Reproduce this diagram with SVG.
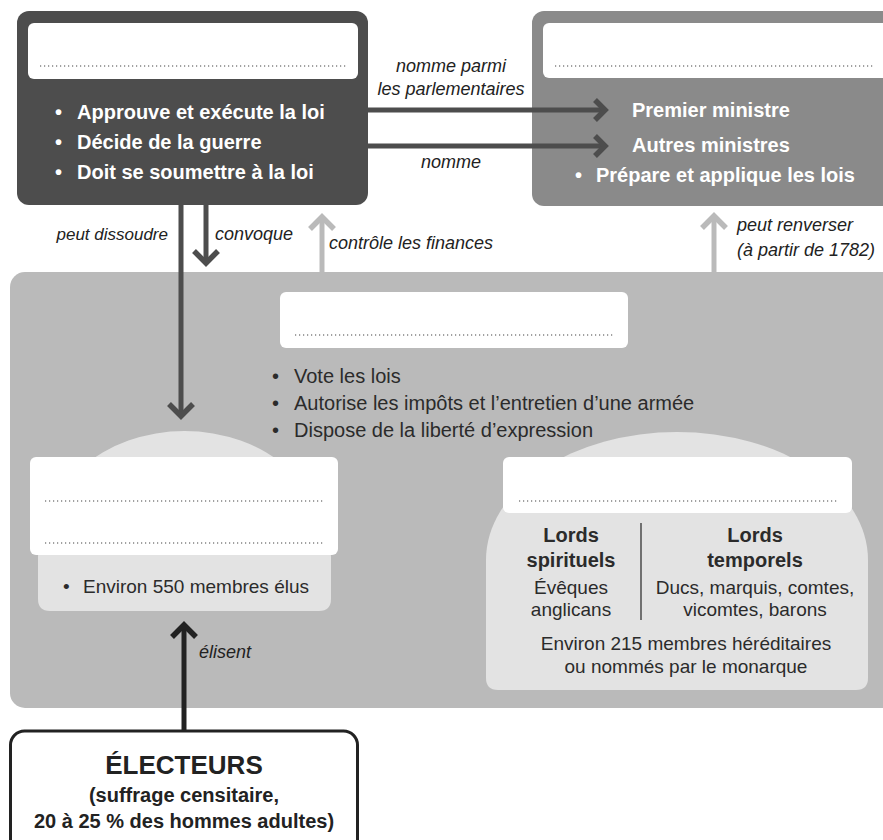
<svg xmlns="http://www.w3.org/2000/svg" width="883" height="840" viewBox="0 0 883 840">
<style>
  text { font-family: "Liberation Sans", Arial, sans-serif; }
  .w { fill: #ffffff; font-weight: bold; font-size: 20px; }
  .d { fill: #2b2b2b; font-size: 20px; }
  .it { fill: #222; font-style: italic; font-size: 18px; }
  .dots { stroke: #444; stroke-width: 1.2; stroke-dasharray: 1.2 2.8; fill: none; }
  .card { fill: #ffffff; }
  .ln-dark { stroke: #4d4d4d; stroke-width: 5; fill: none; }
  .ln-light { stroke: #bababa; stroke-width: 5; fill: none; }
  .ln-black { stroke: #222; stroke-width: 5; fill: none; }
  .chev { fill: none; stroke-width: 5.5; stroke-linejoin: miter; stroke-linecap: butt; }
</style>

<!-- Big parliament panel -->
<g id="parlement">
  <rect x="10" y="272" width="900" height="436" rx="15" fill="#bababa"/>
  <rect class="card" x="280" y="292" width="348" height="56" rx="6"/>
  <line class="dots" x1="295" y1="335" x2="613" y2="335"/>
  <text class="d"><tspan x="272" y="383">•</tspan><tspan x="294">Vote les lois</tspan></text>
  <text class="d"><tspan x="272" y="410">•</tspan><tspan x="294">Autorise les impôts et l’entretien d’une armée</tspan></text>
  <text class="d"><tspan x="272" y="437">•</tspan><tspan x="294">Dispose de la liberté d’expression</tspan></text>
</g>

<!-- Commons -->
<g id="communes">
  <path d="M38 557 A146.5 126 0 0 1 331 557 L331 599 Q331 611 319 611 L50 611 Q38 611 38 599 Z" fill="#e3e3e3"/>
  <rect class="card" x="30" y="457" width="308" height="98" rx="6"/>
  <line class="dots" x1="45" y1="501" x2="325" y2="501"/>
  <line class="dots" x1="45" y1="543" x2="325" y2="543"/>
  <text class="d" style="font-size:19px"><tspan x="63" y="593">•</tspan><tspan x="83">Environ 550 membres élus</tspan></text>
</g>

<!-- Lords -->
<g id="lords">
  <path d="M486 560 A191 128 0 0 1 868 560 L868 678 Q868 690 856 690 L498 690 Q486 690 486 678 Z" fill="#e3e3e3"/>
  <rect class="card" x="503" y="457" width="349" height="56" rx="6"/>
  <line class="dots" x1="519" y1="501" x2="837" y2="501"/>
  <line x1="641" y1="523" x2="641" y2="620" stroke="#333" stroke-width="1.3"/>
  <g text-anchor="middle">
    <text class="d" style="font-weight:bold" x="571" y="542">Lords</text>
    <text class="d" style="font-weight:bold" x="571" y="567">spirituels</text>
    <text class="d" style="font-size:19px" x="571" y="594">Évêques</text>
    <text class="d" style="font-size:19px" x="571" y="616">anglicans</text>
    <text class="d" style="font-weight:bold" x="755" y="542">Lords</text>
    <text class="d" style="font-weight:bold" x="755" y="567">temporels</text>
    <text class="d" style="font-size:19px" x="755" y="594">Ducs, marquis, comtes,</text>
    <text class="d" style="font-size:19px" x="755" y="616">vicomtes, barons</text>
    <text class="d" style="font-size:19px" x="686" y="650">Environ 215 membres héréditaires</text>
    <text class="d" style="font-size:19px" x="686" y="673">ou nommés par le monarque</text>
  </g>
</g>

<!-- King -->
<g id="roi">
  <rect x="17" y="11" width="351" height="194" rx="12" fill="#4d4d4d"/>
  <rect class="card" x="28" y="23" width="330" height="56" rx="6"/>
  <line class="dots" x1="40" y1="66" x2="348" y2="66"/>
  <text class="w"><tspan x="55" y="119">•</tspan><tspan x="77">Approuve et exécute la loi</tspan></text>
  <text class="w"><tspan x="55" y="149">•</tspan><tspan x="77">Décide de la guerre</tspan></text>
  <text class="w"><tspan x="55" y="179">•</tspan><tspan x="77">Doit se soumettre à la loi</tspan></text>
</g>

<!-- Ministers -->
<g id="ministres">
  <rect x="532" y="11" width="380" height="195" rx="12" fill="#8a8a8a"/>
  <rect class="card" x="543" y="23" width="360" height="55" rx="6"/>
  <line class="dots" x1="555" y1="66" x2="873" y2="66"/>
  <text class="w" x="632" y="117">Premier ministre</text>
  <text class="w" x="632" y="152">Autres ministres</text>
  <text class="w"><tspan x="575" y="182">•</tspan><tspan x="596">Prépare et applique les lois</tspan></text>
</g>

<!-- Electors -->
<g id="electeurs">
  <rect x="10.5" y="731" width="347" height="130" rx="14" fill="#ffffff" stroke="#222" stroke-width="3"/>
  <g text-anchor="middle" fill="#222" font-weight="bold">
    <text x="184" y="774" style="font-size:26px">ÉLECTEURS</text>
    <text x="184" y="802" style="font-size:20px">(suffrage censitaire,</text>
    <text x="184" y="828" style="font-size:20px">20 à 25 % des hommes adultes)</text>
  </g>
</g>

<!-- Connectors -->
<g id="connecteurs">
  <line class="ln-dark" x1="368" y1="110" x2="603" y2="110"/>
  <path class="chev" stroke="#4d4d4d" d="M595 100 L605 110 L595 120"/>
  <line class="ln-dark" x1="368" y1="146" x2="603" y2="146"/>
  <path class="chev" stroke="#4d4d4d" d="M595 136 L605 146 L595 156"/>

  <line class="ln-dark" x1="181" y1="205" x2="181" y2="413"/>
  <path class="chev" stroke="#4d4d4d" d="M169 404 L181 416 L193 404"/>
  <line class="ln-dark" x1="206" y1="205" x2="206" y2="260"/>
  <path class="chev" stroke="#4d4d4d" d="M194 251 L206 263 L218 251"/>

  <line class="ln-light" x1="322" y1="272" x2="322" y2="220"/>
  <path class="chev" stroke="#bababa" d="M310 229 L322 217 L334 229"/>
  <line class="ln-light" x1="714" y1="272" x2="714" y2="219"/>
  <path class="chev" stroke="#bababa" d="M702 228 L714 216 L726 228"/>

  <line class="ln-black" x1="184" y1="731" x2="184" y2="628"/>
  <path class="chev" stroke="#222" d="M172 637 L184 625 L196 637"/>

  <text class="it" x="451" y="72" text-anchor="middle">nomme parmi</text>
  <text class="it" x="451" y="95" text-anchor="middle">les parlementaires</text>
  <text class="it" x="451" y="168" text-anchor="middle">nomme</text>
  <text class="it" x="168" y="240" text-anchor="end" style="font-size:17px">peut dissoudre</text>
  <text class="it" x="215" y="240">convoque</text>
  <text class="it" x="329" y="249">contrôle les finances</text>
  <text class="it" x="737" y="231">peut renverser</text>
  <text class="it" x="737" y="256">(à partir de 1782)</text>
  <text class="it" x="199" y="658">élisent</text>
</g>
</svg>
